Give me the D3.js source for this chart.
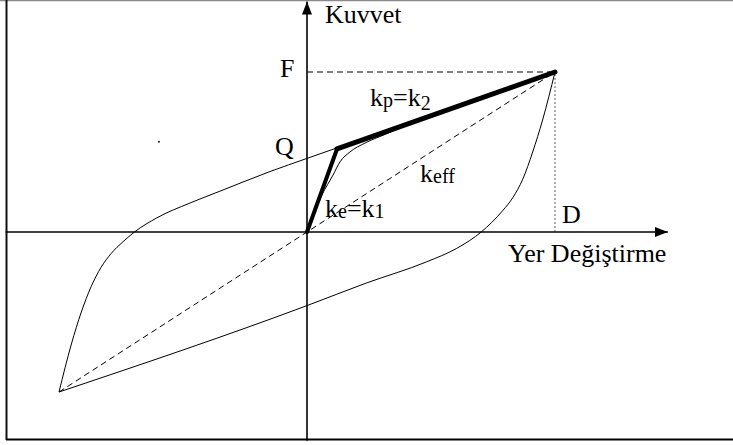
<!DOCTYPE html>
<html>
<head>
<meta charset="utf-8">
<script src="https://cdn.jsdelivr.net/npm/d3@7"></script>
</head>
<body style="margin:0">
<svg id="chart" width="733" height="445" style="font-family: 'Liberation Serif', 'Times New Roman', Times, serif"></svg>
<script>
// Normalised displacement / force (peak displacement D = 1, peak force F = 1)
const peak = [1, 1];
const negPeak = [-1, -1];
const yieldPoint = [0.121, 0.519];           // Q
const origin = [0, 0];

// Loading branch of the hysteresis loop (from -D up to +D)
const upperBranch = [
  [-1, -1], [-0.95, -0.70], [-0.91, -0.50], [-0.87, -0.34],
  [-0.83, -0.22], [-0.79, -0.135], [-0.742, -0.061], [-0.694, 0.002],
  [-0.606, 0.088], [-0.472, 0.181], [-0.351, 0.255], [-0.149, 0.378],
  [0, 0.46], [1, 1]
];

// Unloading branch of the hysteresis loop (listed from -D up to +D)
const lowerBranch = [
  [-1, -1], [0, -0.46], [0.241, -0.318], [0.483, -0.186],
  [0.604, -0.102], [0.704, 0.002], [0.745, 0.06], [0.79, 0.135],
  [0.83, 0.215], [0.87, 0.33], [0.91, 0.50], [0.95, 0.70], [1, 1]
];

// Smooth first-loading curve from the origin
const initialCurve = [
  [0, 0], [0.06, 0.231], [0.105, 0.356], [0.133, 0.438],
  [0.173, 0.5], [0.234, 0.556], [0.315, 0.61], [0.42, 0.68]
];

// Bilinear idealisation: k1 up to Q, then k2 up to (D, F)
const bilinear = [origin, yieldPoint, peak];

// Axis reach (in data units) and a small ink speck on the sheet
const xAxisReach = [-1.215, 1.455];
const yAxisReach = [-1.305, 1.44];
const speck = [-0.597, 0.564];

const svg = d3.select("#chart");
const W = 733, H = 445;
const SERIF = "Liberation Serif";

const x = d3.scaleLinear().domain([0, 1]).range([307, 555]);
const y = d3.scaleLinear().domain([0, 1]).range([232, 72]);

// Labels: every run (main text or subscript) is its own <text>, laid out
// left to right from the measured width of the previous run
const fs = 26, sub = 20;
const labelLayer = svg.append("g");
function label(tx, ty, parts) {
  let cx = tx;
  parts.forEach(p => {
    const size = p[1] ? sub : fs;
    const t = labelLayer.append("text")
      .attr("x", cx).attr("y", ty + (p[2] || 0))
      .style("font-family", SERIF)
      .style("font-size", size + "px")
      .text(p[0]);
    let w;
    try { w = t.node().getComputedTextLength(); } catch (e) { w = 0; }
    if (!w) w = p[0].length * size * 0.5;
    cx += w;
  });
}
label(325, 23, [["Kuvvet"]]);
label(280, 77, [["F"]]);
label(275, 155, [["Q"]]);
label(370, 106, [["k"], ["p", true, 1], ["="], ["k"], ["2", true, 4]]);
label(325, 217, [["k"], ["e", true, 1], ["="], ["k"], ["1", true, 1]]);
label(420, 182, [["k"], ["eff", true, 1]]);
label(562, 223, [["D"]]);
label(508, 262, [["Yer Değiştirme"]]);

const marks = svg.insert("g", ":first-child");

// Frame
marks.append("line").attr("x1", 0).attr("x2", W).attr("y1", 0.5).attr("y2", 0.5)
  .attr("stroke", "#8a8a8a").attr("stroke-width", 1.5);
marks.append("line").attr("x1", 6.5).attr("x2", 6.5).attr("y1", 0).attr("y2", 440)
  .attr("stroke", "#111").attr("stroke-width", 2);
marks.append("line").attr("x1", 6).attr("x2", W).attr("y1", 439.5).attr("y2", 439.5)
  .attr("stroke", "#000").attr("stroke-width", 2);

const defs = svg.append("defs");
defs.append("marker").attr("id", "arrow")
  .attr("viewBox", "0 0 13 10").attr("refX", 13).attr("refY", 5)
  .attr("markerWidth", 13).attr("markerHeight", 10)
  .attr("markerUnits", "userSpaceOnUse").attr("orient", "auto")
  .append("path").attr("d", "M0,0 L13,5 L0,10 Z").attr("fill", "#000");

// Axes
marks.append("line")
  .attr("x1", x(xAxisReach[0])).attr("x2", x(xAxisReach[1]))
  .attr("y1", y(0)).attr("y2", y(0))
  .attr("stroke", "#000").attr("stroke-width", 1.6)
  .attr("marker-end", "url(#arrow)");
marks.append("line")
  .attr("x1", x(0)).attr("x2", x(0))
  .attr("y1", y(yAxisReach[0])).attr("y2", y(yAxisReach[1]))
  .attr("stroke", "#000").attr("stroke-width", 1.6)
  .attr("marker-end", "url(#arrow)");

const line = d3.line().x(d => x(d[0])).y(d => y(d[1]));
const smooth = d3.line().x(d => x(d[0])).y(d => y(d[1])).curve(d3.curveMonotoneX);

// F reference (dashed) and D reference (dotted)
marks.append("path").attr("d", line([[0, peak[1]], peak]))
  .attr("fill", "none").attr("stroke", "#000").attr("stroke-width", 1)
  .attr("stroke-dasharray", "6,4");
marks.append("path").attr("d", line([[peak[0], 0], peak]))
  .attr("fill", "none").attr("stroke", "#333").attr("stroke-width", 0.8)
  .attr("stroke-dasharray", "2,2");

// Effective stiffness secant
marks.append("path").attr("d", line([negPeak, peak]))
  .attr("fill", "none").attr("stroke", "#000").attr("stroke-width", 1)
  .attr("stroke-dasharray", "6,4");

// Hysteresis loop
marks.append("path").attr("d", smooth(upperBranch))
  .attr("fill", "none").attr("stroke", "#000").attr("stroke-width", 1);
marks.append("path").attr("d", smooth(lowerBranch))
  .attr("fill", "none").attr("stroke", "#000").attr("stroke-width", 1);
marks.append("path").attr("d", smooth(initialCurve))
  .attr("fill", "none").attr("stroke", "#000").attr("stroke-width", 1);

// Bilinear model
marks.append("path").attr("d", line(bilinear.slice(0, 2)))
  .attr("fill", "none").attr("stroke", "#000").attr("stroke-width", 4)
  .attr("stroke-linecap", "round");
marks.append("path").attr("d", line(bilinear.slice(1)))
  .attr("fill", "none").attr("stroke", "#000").attr("stroke-width", 5)
  .attr("stroke-linecap", "round").attr("stroke-linejoin", "round");

marks.append("circle").attr("cx", x(speck[0])).attr("cy", y(speck[1])).attr("r", 0.9).attr("fill", "#000");
</script>
</body>
</html>
